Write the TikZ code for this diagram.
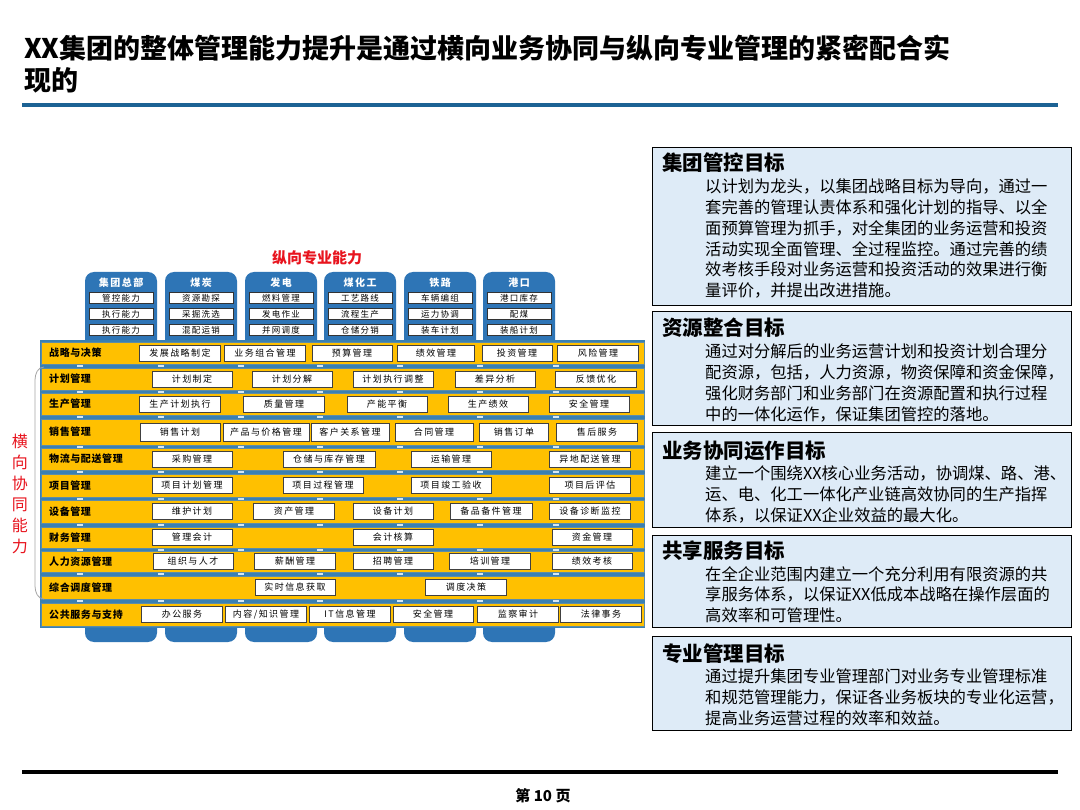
\documentclass[tikz,border=0pt]{standalone}
\usepackage{fontspec}
\setmainfont{Noto Sans CJK SC}
\XeTeXlinebreaklocale "zh"
\usetikzlibrary{positioning}
\definecolor{colblue}{RGB}{46,117,182}
\definecolor{bandblue}{RGB}{58,128,178}
\definecolor{gapmark}{RGB}{214,232,245}
\definecolor{rowyellow}{RGB}{255,192,0}
\definecolor{rowline}{RGB}{92,140,168}
\definecolor{goalfill}{RGB}{222,235,247}
\definecolor{titleblue}{RGB}{28,98,148}
\definecolor{capred}{RGB}{232,20,30}

\begin{document}
\begin{tikzpicture}[x=1pt,y=-1pt,
    coltab/.style={fill=colblue, rounded corners=9pt},
    colhead/.style={font=\fontsize{10}{10}\selectfont\bfseries\addfontfeature{LetterSpace=15}, text=white},
    colitem/.style={draw=black!80, fill=white, line width=0.6pt, minimum width=64pt, minimum height=11pt,
      inner sep=0pt, font=\fontsize{8.5}{8.5}\selectfont\addfontfeature{LetterSpace=15}},
    rowbar/.style={draw=rowline, fill=rowyellow, line width=0.8pt, minimum width=603pt, inner sep=0pt},
    rowhead/.style={font=\fontsize{10}{10}\selectfont\bfseries\addfontfeature{LetterSpace=6}, anchor=west, inner sep=0pt},
    cell/.style={draw=black!75, fill=white, line width=0.6pt, minimum height=16pt, inner sep=0pt,
      font=\fontsize{9}{9}\selectfont\addfontfeature{LetterSpace=16}},
    goalbox/.style={draw=black, fill=goalfill, line width=1.4pt, minimum width=419pt, inner sep=0pt, anchor=north west},
    goaltitle/.style={font=\fontsize{20.5}{22}\selectfont\bfseries, anchor=west, inner sep=0pt},
    goaltext/.style={font=\fontsize{16.3}{20.7}\selectfont, anchor=north west, align=left, inner sep=0pt}
  ]
  \useasboundingbox (0,0) rectangle (1080,810);
  \fill[white] (0,0) rectangle (1080,810);

  \node[anchor=west, inner sep=0pt, align=left, font=\fontsize{27}{32}\selectfont\bfseries] (title) at (24,64)
    {XX集团的整体管理能力提升是通过横向业务协同与纵向专业管理的紧密配合实\\现的};
  \draw[titleblue, line width=4.5pt] (22,105) -- (1058,105);

  % vertical columns
  \foreach \cx/\name/\ia/\ib/\ic [count=\i] in {121/集团总部/管控能力/执行能力/执行能力,
      201/煤炭/资源勘探/采掘洗选/混配运销, 281/发电/燃料管理/发电作业/并网调度,
      360/煤化工/工艺路线/流程生产/仓储分销, 440/铁路/车辆编组/运力协调/装车计划,
      519/港口/港口库存/配煤/装船计划}{
    \fill[coltab] (\cx-36,272) rectangle (\cx+36,642);
    \node[colhead] (col\i) at (\cx,283) {\name};
    \node[colitem] (col\i-1) at (\cx,298) {\ia};
    \node[colitem] (col\i-2) at (\cx,314) {\ib};
    \node[colitem] (col\i-3) at (\cx,330) {\ic};
  }
  \node[font=\fontsize{15}{15}\selectfont\bfseries, text=capred] (vtitle) at (317,258) {纵向专业能力};

  % horizontal rows
  \fill[bandblue] (40,340) rectangle (645,628);
  \foreach \y in {366,391.5,417,446.5,472,498.5,525,549.5,574,601}
    \foreach \gx in {80,161,241,320,400,480,556}
      \fill[gapmark] (\gx-3,\y-1.2) rectangle (\gx+3,\y+1.2);

  \foreach \yc/\h/\lab [count=\ri] in {353/22/战略与决策, 379/22/计划管理, 404/22/生产管理, 432/26/销售管理,
      459/22/物流与配送管理, 485.5/23/项目管理, 511.5/23/设备管理, 537.5/21/财务管理,
      561.5/21/人力资源管理, 587.5/23/综合调度管理, 614.5/23/公共服务与支持}{
    \node[rowbar, minimum height=\h pt] (row\ri) at (342.5,\yc) {};
    \node[rowhead] (lab\ri) at (49,\yc) {\lab};
  }

  \foreach \x/\w/\txt [count=\k] in {180/81/发展战略制定, 265/81/业务组合管理, 352/80/预算管理,
      436/77/绩效管理, 517/70/投资管理, 598/81/风险管理}
    \node[cell, minimum width=\w pt] (s1-\k) at (\x,353) {\txt};
  \foreach \x/\w/\txt [count=\k] in {192/80/计划制定, 292/80/计划分解, 393/80/计划执行调整,
      495/80/差异分析, 596/81/反馈优化}
    \node[cell, minimum width=\w pt] (s2-\k) at (\x,379) {\txt};
  \foreach \x/\w/\txt [count=\k] in {180/81/生产计划执行, 284/81/质量管理, 387/80/产能平衡,
      488/80/生产绩效, 589/80/安全管理}
    \node[cell, minimum width=\w pt] (s3-\k) at (\x,404) {\txt};
  \foreach \x/\w/\txt [count=\k] in {180/80/销售计划, 266/86/产品与价格管理, 350/78/客户关系管理,
      434/78/合同管理, 514/69/销售订单, 597/81/售后服务}
    \node[cell, minimum width=\w pt, minimum height=18pt] (s4-\k) at (\x,432) {\txt};
  \foreach \x/\w/\txt [count=\k] in {192/80/采购管理, 329/92/仓储与库存管理, 451/80/运输管理,
      590/81/异地配送管理}
    \node[cell, minimum width=\w pt] (s5-\k) at (\x,459) {\txt};
  \foreach \x/\w/\txt [count=\k] in {192/80/项目计划管理, 323/80/项目过程管理, 451/80/项目竣工验收,
      590/81/项目后评估}
    \node[cell, minimum width=\w pt] (s6-\k) at (\x,485.5) {\txt};
  \foreach \x/\w/\txt [count=\k] in {192/80/维护计划, 294/81/资产管理, 393/80/设备计划,
      491/82/备品备件管理, 590/81/设备诊断监控}
    \node[cell, minimum width=\w pt] (s7-\k) at (\x,511.5) {\txt};
  \foreach \x/\w/\txt [count=\k] in {192/80/管理会计, 393/80/会计核算, 592/80/资金管理}
    \node[cell, minimum width=\w pt] (s8-\k) at (\x,537.5) {\txt};
  \foreach \x/\w/\txt [count=\k] in {193/80/组织与人才, 295/81/薪酬管理, 393/80/招聘管理,
      490/81/培训管理, 592/80/绩效考核}
    \node[cell, minimum width=\w pt] (s9-\k) at (\x,561.5) {\txt};
  \foreach \x/\w/\txt [count=\k] in {295/80/实时信息获取, 466/81/调度决策}
    \node[cell, minimum width=\w pt] (s10-\k) at (\x,587.5) {\txt};
  \foreach \x/\w/\txt [count=\k] in {182/81/办公服务, 266/81/{内容/知识管理}, 350/81/IT信息管理,
      433/80/安全管理, 518/81/监察审计, 601/81/法律事务}
    \node[cell, minimum width=\w pt] (s11-\k) at (\x,614.5) {\txt};

  \draw[gray!70, line width=0.8pt] (44,367) to[out=180,in=90] (35,380) -- (35,586) to[out=-90,in=180] (44,599);
  \node[text=capred, font=\fontsize{16}{21}\selectfont, align=center, inner sep=0pt] (hlabel) at (20,494)
    {横\\向\\协\\同\\能\\力};

  % goal boxes
  \node[goalbox, minimum height=158pt] (goal1) at (652,147) {};
  \node[goaltitle] (goal1t) at (662,163) {集团管控目标};
  \node[goaltext] (goal1b) at (705,179) {以计划为龙头，以集团战略目标为导向，通过一\\
    套完善的管理认责体系和强化计划的指导、以全\\面预算管理为抓手，对全集团的业务运营和投资\\
    活动实现全面管理、全过程监控。通过完善的绩\\效考核手段对业务运营和投资活动的效果进行衡\\
    量评价，并提出改进措施。};

  \node[goalbox, minimum height=114pt] (goal2) at (652,311) {};
  \node[goaltitle] (goal2t) at (662,328) {资源整合目标};
  \node[goaltext] (goal2b) at (705,344) {通过对分解后的业务运营计划和投资计划合理分\\
    配资源，包括，人力资源，物资保障和资金保障，\\强化财务部门和业务部门在资源配置和执行过程\\
    中的一体化运作，保证集团管控的落地。};

  \node[goalbox, minimum height=95pt] (goal3) at (652,432) {};
  \node[goaltitle] (goal3t) at (662,451) {业务协同运作目标};
  \node[goaltext] (goal3b) at (705,466) {建立一个围绕XX核心业务活动，协调煤、路、港、\\
    运、电、化工一体化产业链高效协同的生产指挥\\体系，以保证XX企业效益的最大化。};

  \node[goalbox, minimum height=92pt] (goal4) at (652,535) {};
  \node[goaltitle] (goal4t) at (662,551) {共享服务目标};
  \node[goaltext] (goal4b) at (705,566) {在全企业范围内建立一个充分利用有限资源的共\\
    享服务体系，以保证XX低成本战略在操作层面的\\高效率和可管理性。};

  \node[goalbox, minimum height=94pt] (goal5) at (652,636) {};
  \node[goaltitle] (goal5t) at (662,654) {专业管理目标};
  \node[goaltext] (goal5b) at (705,669) {通过提升集团专业管理部门对业务专业管理标准\\
    和规范管理能力，保证各业务板块的专业化运营，\\提高业务运营过程的效率和效益。};

  \draw[line width=3.5pt] (22,772) -- (1058,772);
  \node[font=\fontsize{15}{15}\selectfont\bfseries] (pageno) at (543,796) {第 10 页};
\end{tikzpicture}
\end{document}
